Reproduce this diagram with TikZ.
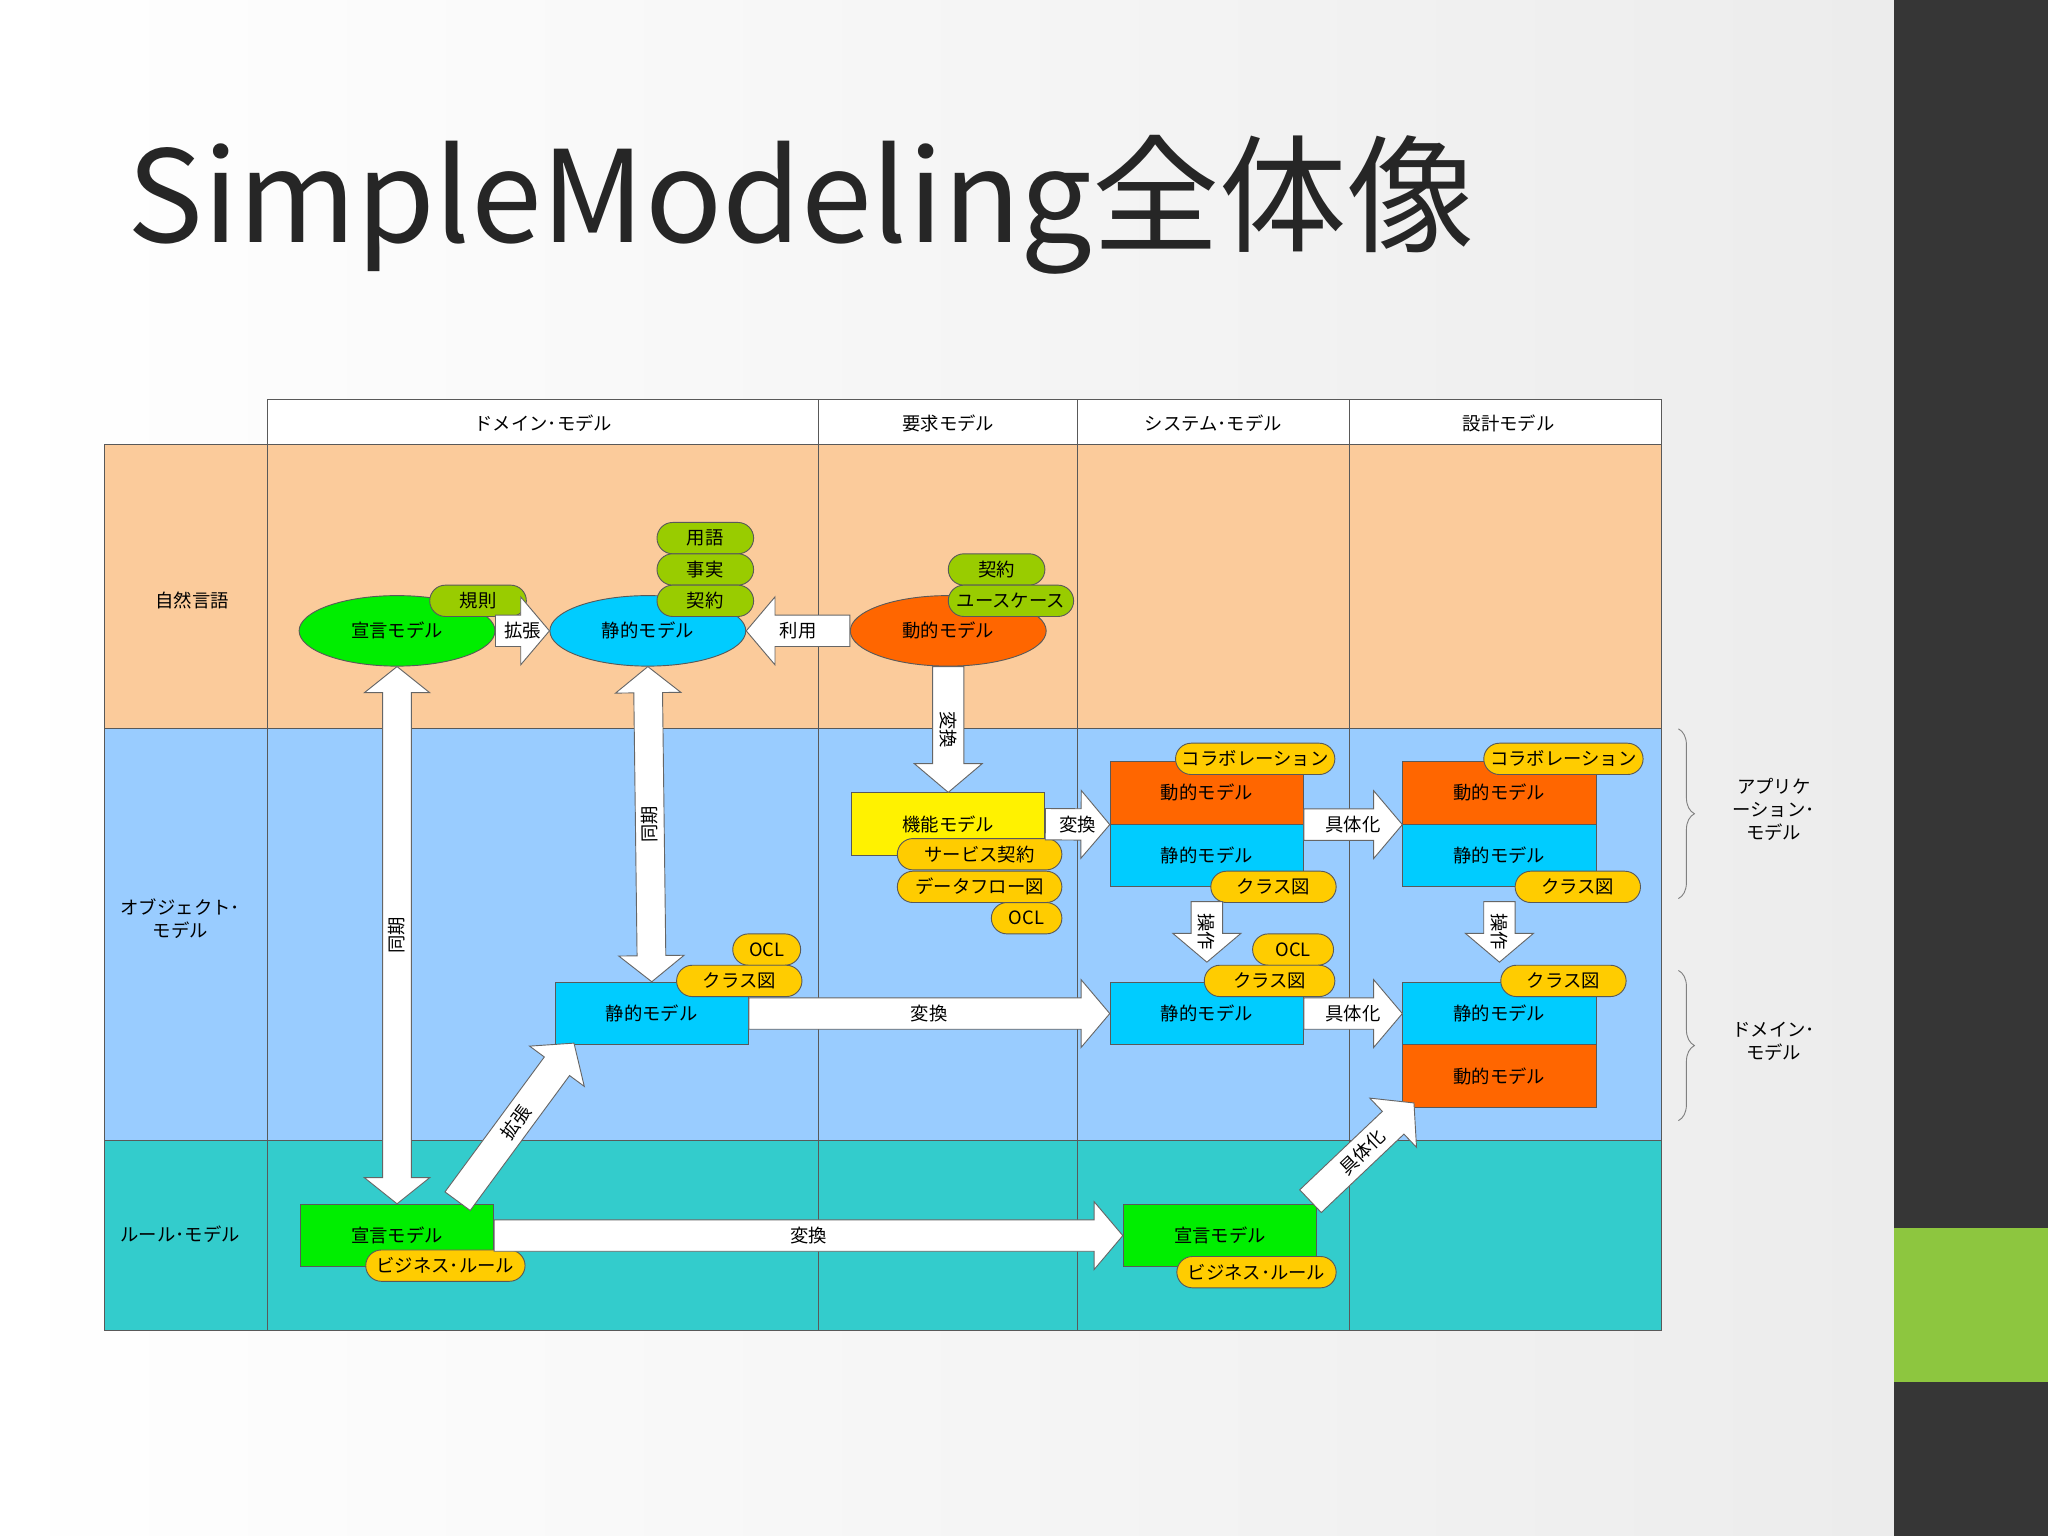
\documentclass[tikz,border=0pt]{standalone}
\usepackage{fontspec}
\setmainfont{Noto Sans CJK JP}
\usetikzlibrary{shapes.geometric,calc,decorations.pathreplacing}
\definecolor{peach}{HTML}{FBCB9B}
\definecolor{lblue}{HTML}{99CCFF}
\definecolor{teal2}{HTML}{33CCCC}
\definecolor{gpill}{HTML}{99CC00}
\definecolor{opill}{HTML}{FFCC00}
\definecolor{cyanm}{HTML}{00CCFF}
\definecolor{orgm}{HTML}{FF6600}
\definecolor{grnm}{HTML}{00EE00}
\definecolor{side}{HTML}{363636}
\definecolor{sidegreen}{HTML}{8DC63F}
\newcommand\fatar[4][0]{%
  \path (#2); \pgfgetlastxy{\ax}{\ay}
  \path (#3); \pgfgetlastxy{\bx}{\by}
  \pgfmathsetmacro\L{veclen(\bx-\ax,\by-\ay)}
  \pgfmathsetmacro\A{atan2(\by-\ay,\bx-\ax)}
  \pgfmathsetmacro\Lh{\L/2}
  \begin{scope}[shift={(\ax,\ay)},rotate=\A]
    \draw[fill=white,draw=gray!80!black,line width=0.4pt]
      (0,-0.24cm) -- ([xshift=-0.44cm]\L pt,-0.24cm) -- ([xshift=-0.44cm]\L pt,-0.52cm)
      -- (\L pt,0) -- ([xshift=-0.44cm]\L pt,0.52cm) -- ([xshift=-0.44cm]\L pt,0.24cm)
      -- (0,0.24cm) -- cycle;
    \node[lbl,rotate=\A+#1] at (\Lh pt,0) {#4};
  \end{scope}}
\newcommand\dblar[3]{%
  \path (#1); \pgfgetlastxy{\ax}{\ay}
  \path (#2); \pgfgetlastxy{\bx}{\by}
  \pgfmathsetmacro\L{veclen(\bx-\ax,\by-\ay)}
  \pgfmathsetmacro\A{atan2(\by-\ay,\bx-\ax)}
  \pgfmathsetmacro\Lh{\L/2}
  \begin{scope}[shift={(\ax,\ay)},rotate=\A]
    \draw[fill=white,draw=gray!80!black,line width=0.4pt]
      (0,0) -- (0.4cm,-0.5cm) -- (0.4cm,-0.22cm) -- ([xshift=-0.4cm]\L pt,-0.22cm) -- ([xshift=-0.4cm]\L pt,-0.5cm)
      -- (\L pt,0) -- ([xshift=-0.4cm]\L pt,0.5cm) -- ([xshift=-0.4cm]\L pt,0.22cm)
      -- (0.4cm,0.22cm) -- (0.4cm,0.5cm) -- cycle;
    \node[lbl,rotate=\A] at (\Lh pt,0) {#3};
  \end{scope}}
\begin{document}
\begin{tikzpicture}[x=0.02cm,y=-0.02cm,
  lbl/.style={font=\fontsize{8}{10}\selectfont,inner sep=0pt},
  base/.style={font=\fontsize{8}{10}\selectfont,inner sep=1pt,draw=gray!70!black,line width=0.4pt},
  ell/.style={base,ellipse,minimum width=3cm,minimum height=1.08cm},
  box/.style={base,rectangle,minimum width=2.96cm,minimum height=0.96cm},
  pill/.style={base,rectangle,rounded corners=0.24cm,minimum height=0.48cm,minimum width=#1},
  gp/.style={pill=1.48cm,fill=gpill},
  op/.style={pill=#1,fill=opill},
  hdr/.style={font=\fontsize{8}{10}\selectfont,align=center,inner sep=0pt}]
\useasboundingbox (0,0) rectangle (1568,1176);
% background
\shade[left color=white,right color=gray!15] (0,0) rectangle (1450,1176);
\fill[side] (1450,0) rectangle (1568,1176);
\fill[sidegreen] (1450,940) rectangle (1568,1058);
\node[anchor=base west,inner sep=0pt,font=\fontsize{55.5}{60}\selectfont,text=black!85] (title) at (97,186) {SimpleModeling全体像};
% table
\fill[peach] (80,340) rectangle (1272,558);
\fill[lblue] (80,558) rectangle (1272,873);
\fill[teal2] (80,873) rectangle (1272,1019);
\begin{scope}[draw=gray!70!black,line width=0.4pt]
\draw[fill=white] (205,306) rectangle (1272,340);
\draw (80,340) rectangle (1272,1019);
\draw (80,558) -- (1272,558) (80,873) -- (1272,873);
\foreach \x in {205,627,825,1033} \draw (\x,306) -- (\x,1019);
\end{scope}
\node[hdr] (h1) at (416,324) {ドメイン･モデル};
\node[hdr] (h2) at (726,324) {要求モデル};
\node[hdr] (h3) at (929,324) {システム･モデル};
\node[hdr] (h4) at (1155,324) {設計モデル};
\node[hdr] (r1) at (147,460) {自然言語};
\node[hdr] (r2) at (138,703) {オブジェクト･\\モデル};
\node[hdr] (r3) at (138,945) {ルール･モデル};
% braces
\draw[gray,decorate,decoration={brace,amplitude=7pt}] (1285,558) -- (1285,688);
\draw[gray,decorate,decoration={brace,amplitude=7pt}] (1285,743) -- (1285,858);
\node[hdr] (b1) at (1358,620) {アプリケ\\ーション･\\モデル};
\node[hdr] (b2) at (1358,797) {ドメイン･\\モデル};
% natural language row
\node[ell,fill=grnm] (declE) at (304,483) {宣言モデル};
\node[ell,fill=cyanm] (statE) at (496,483) {静的モデル};
\node[ell,fill=orgm] (dynE) at (726,483) {動的モデル};
\node[gp] (p1) at (366,460) {規則};
\node[gp] (p2) at (540,412) {用語};
\node[gp] (p3) at (540,436) {事実};
\node[gp] (p4) at (540,460) {契約};
\node[gp] (p5) at (763,436) {契約};
\node[pill=1.92cm,fill=gpill] (p6) at (774,460) {ユースケース};
% object row
\node[box,fill=yellow] (func) at (726,631) {機能モデル};
\node[op=2.52cm] (p7) at (750,654) {サービス契約};
\node[op=2.52cm] (p8) at (750,679) {データフロー図};
\node[op=1.08cm] (p9) at (786,703) {OCL};
\node[box,fill=orgm] (sysD) at (924,607) {動的モデル};
\node[box,fill=cyanm] (sysS) at (924,655) {静的モデル};
\node[op=2.44cm] (p10) at (961,581) {コラボレーション};
\node[op=1.92cm] (p11) at (975,679) {クラス図};
\node[box,fill=orgm] (desD) at (1148,607) {動的モデル};
\node[box,fill=cyanm] (desS) at (1148,655) {静的モデル};
\node[op=2.44cm] (p12) at (1197,581) {コラボレーション};
\node[op=1.92cm] (p13) at (1208,679) {クラス図};
\node[box,fill=cyanm] (dS) at (499,776) {静的モデル};
\node[op=1.04cm] (p14) at (587,727) {OCL};
\node[op=1.92cm] (p15) at (566,751) {クラス図};
\node[box,fill=cyanm] (sysS2) at (924,776) {静的モデル};
\node[op=1.24cm] (p16) at (990,727) {OCL};
\node[op=2cm] (p17) at (972,751) {クラス図};
\node[box,fill=cyanm] (desS2) at (1148,776) {静的モデル};
\node[box,fill=orgm] (desD2) at (1148,824) {動的モデル};
\node[op=1.92cm] (p18) at (1197,751) {クラス図};
% rule row
\node[box,fill=grnm] (declR) at (304,946) {宣言モデル};
\node[op=2.44cm] (p19) at (341,969) {ビジネス･ルール};
\node[box,fill=grnm] (sysR) at (934,946) {宣言モデル};
\node[op=2.44cm] (p20) at (962,974) {ビジネス･ルール};
% arrows
\fatar{declE.east}{statE.west}{拡張}
\fatar[180]{dynE.west}{statE.east}{利用}
\fatar{dynE.south}{func.north}{変換}
\fatar{func.east}{sysD.south west}{変換}
\fatar{sysD.south east}{desD.south west}{具体化}
\fatar{$(sysS.south)+(0,11)$}{$(sysS2.north)+(0,-15)$}{操作}
\fatar{$(desS.south)+(0,11)$}{$(desS2.north)+(0,-15)$}{操作}
\fatar{dS.east}{sysS2.west}{変換}
\fatar{sysS2.east}{desS2.west}{具体化}
\fatar{$(declR.north east)+(-28,-2)$}{$(dS.south west)+(15,-2)$}{拡張}
\fatar{declR.east}{sysR.west}{変換}
\fatar{$(sysR.north east)+(-5,-2)$}{$(desD2.south west)+(9,-4)$}{具体化}
\dblar{declR.north}{declE.south}{同期}
\dblar{dS.north}{statE.south}{同期}
\end{tikzpicture}
\end{document}
